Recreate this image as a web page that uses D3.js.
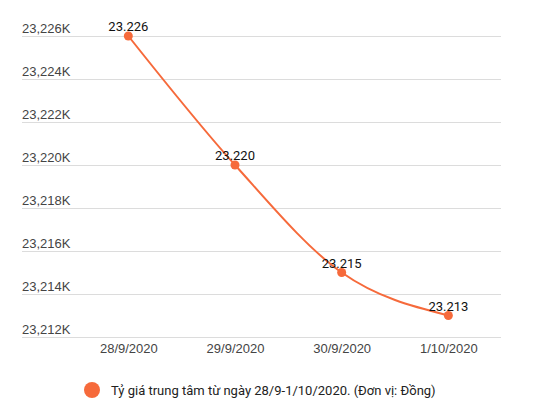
<!DOCTYPE html>
<html>
<head>
<meta charset="utf-8">
<script src="https://cdn.jsdelivr.net/npm/d3@7"></script>
<style>
  body { margin: 0; background: #fff; }
  svg { font-family: Roboto, Arial, sans-serif; }
</style>
</head>
<body>
<svg id="chart" width="533" height="407"></svg>
<script>
// data
var dates = ["28/9/2020", "29/9/2020", "30/9/2020", "1/10/2020"];
var rates = [23226, 23220, 23215, 23213];
var yTicks = [23212, 23214, 23216, 23218, 23220, 23222, 23224, 23226];
var seriesName = "Tỷ giá trung tâm từ ngày 28/9-1/10/2020. (Đơn vị: Đồng)";

var lineColor = "#f66a3b";

var svg = d3.select("#chart");

var gridLeft = 22, gridRight = 501;
var plotLeft = 75, plotRight = 501.7;

var xScale = d3.scalePoint()
  .domain(dates)
  .range([plotLeft, plotRight])
  .padding(0.5);

var yScale = d3.scaleLinear()
  .domain([23212, 23226])
  .range([337, 36]);

// y axis + gridlines
var leftAxis = d3.axisLeft(yScale)
  .tickValues(yTicks)
  .tickSize(-(gridRight - gridLeft))
  .tickFormat(d => d3.format(",")(d) + "K");

var yAxis = svg.append("g")
  .attr("transform", `translate(${gridLeft}, 0)`)
  .call(leftAxis);

yAxis.select(".domain").remove();
yAxis.selectAll(".tick line")
  .attr("stroke", "#dcdcdc")
  .attr("stroke-width", 1);
yAxis.selectAll(".tick text")
  .attr("x", 0)
  .attr("dy", -4)
  .attr("text-anchor", "start")
  .attr("fill", "#444")
  .style("font-size", "13px");

// x axis labels
var bottomAxis = d3.axisBottom(xScale)
  .tickSize(0)
  .tickPadding(6);

var xAxis = svg.append("g")
  .attr("transform", "translate(0, 337)")
  .call(bottomAxis);

xAxis.select(".domain").remove();
xAxis.selectAll(".tick text")
  .attr("y", 16)
  .attr("dy", 0)
  .attr("fill", "#444")
  .style("font-size", "13px");

// line
var line = d3.line()
  .x((d, i) => xScale(dates[i]))
  .y(d => yScale(d))
  .curve(d3.curveMonotoneX);

svg.append("path")
  .datum(rates)
  .attr("d", line)
  .attr("fill", "none")
  .attr("stroke", lineColor)
  .attr("stroke-width", 2);

// points
svg.selectAll("circle.pt")
  .data(rates)
  .enter()
  .append("circle")
  .attr("class", "pt")
  .attr("cx", (d, i) => xScale(dates[i]))
  .attr("cy", d => yScale(d))
  .attr("r", 4.5)
  .attr("fill", lineColor);

// value labels
svg.selectAll("text.val")
  .data(rates)
  .enter()
  .append("text")
  .attr("class", "val")
  .attr("x", (d, i) => xScale(dates[i]))
  .attr("y", d => yScale(d) - 5)
  .attr("text-anchor", "middle")
  .attr("fill", "#111")
  .style("font-size", "13px")
  .text(d => (d / 1000).toFixed(3));

// legend
var legend = svg.append("g");
legend.append("circle")
  .attr("cx", 92)
  .attr("cy", 390)
  .attr("r", 8)
  .attr("fill", lineColor);
legend.append("text")
  .attr("x", 111)
  .attr("y", 394.5)
  .attr("fill", "#222")
  .style("font-size", "13px")
  .text(seriesName);
</script>
</body>
</html>
